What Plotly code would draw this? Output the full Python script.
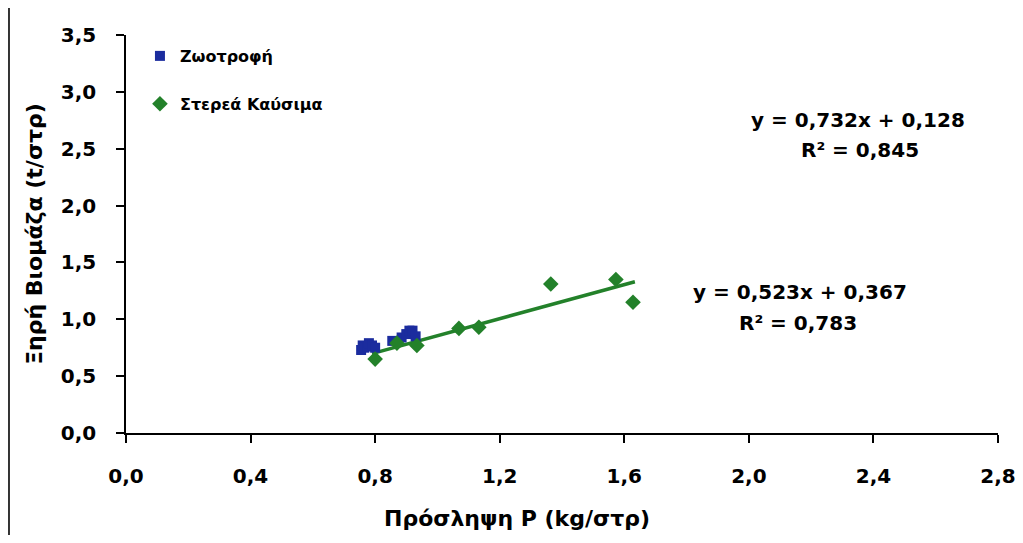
import numpy as np
import plotly.graph_objects as go

# Data
zootrofi_x = [0.755, 0.76, 0.765, 0.775, 0.78, 0.79, 0.80, 0.855, 0.885, 0.90, 0.91, 0.92, 0.93]
zootrofi_y = [0.73, 0.77, 0.75, 0.76, 0.79, 0.77, 0.75, 0.81, 0.84, 0.87, 0.90, 0.90, 0.85]

kafsima_x = [0.80, 0.87, 0.934, 1.069, 1.133, 1.364, 1.573, 1.628]
kafsima_y = [0.65, 0.79, 0.77, 0.92, 0.93, 1.31, 1.35, 1.15]

series_names = ["Ζωοτροφή", "Στερεά Καύσιμα"]
eq_lines = ["y = 0,732x + 0,128", "R² = 0,845", "y = 0,523x + 0,367", "R² = 0,783"]
x_title = "Πρόσληψη P (kg/στρ)"
y_title = "Ξηρή Βιομάζα (t/στρ)"

x_ticks = [0.0, 0.4, 0.8, 1.2, 1.6, 2.0, 2.4, 2.8]
y_ticks = [0.0, 0.5, 1.0, 1.5, 2.0, 2.5, 3.0, 3.5]

BLUE = "#1b2c9e"
GREEN = "#23812a"
FONT = "DejaVu Sans"


def bold(s):
    return "<b>" + s + "</b>"


def fmt(v):
    return bold(f"{v:.1f}".replace(".", ","))


# linear fit of the green series for the trend line
kx = np.array(kafsima_x)
ky = np.array(kafsima_y)
slope, intercept = np.polyfit(kx, ky, 1)
fit_x = np.array([kx.min() - 0.01, kx.max() + 0.006])
fit_y = slope * fit_x + intercept

fig = go.Figure()
fig.add_trace(go.Scatter(
    x=fit_x, y=fit_y, mode="lines", line=dict(color=GREEN, width=3.5),
    showlegend=False, hoverinfo="skip"))
fig.add_trace(go.Scatter(
    x=zootrofi_x, y=zootrofi_y, mode="markers", name=bold(series_names[0]),
    legendgroup="a",
    marker=dict(symbol="square", size=10, color=BLUE, line=dict(width=0))))
fig.add_trace(go.Scatter(
    x=kafsima_x, y=kafsima_y, mode="markers", name=bold(series_names[1]),
    legendgroup="b",
    marker=dict(symbol="diamond", size=12, color=GREEN, line=dict(width=0))))

eq_pos = [(2.35, 2.753), (2.356, 2.489), (2.164, 1.24), (2.157, 0.967)]
for txt, (ax, ay) in zip(eq_lines, eq_pos):
    fig.add_annotation(x=ax, y=ay, xref="x", yref="y", text=bold(txt),
                       showarrow=False, align="center",
                       font=dict(family=FONT, size=20, color="black"))

# x-axis title (offset to the left of the plot centre, as in the original)
fig.add_annotation(x=1.255, y=-0.2136, xref="x", yref="paper", text=bold(x_title),
                   showarrow=False, xanchor="center", yanchor="middle",
                   font=dict(family=FONT, size=22, color="black"))

# thin scan-border line at the left edge
fig.add_shape(type="line", xref="paper", yref="paper",
              x0=-0.1342, x1=-0.1342, y0=-0.26, y1=1.07,
              line=dict(color="#333333", width=2))

axis_font = dict(family=FONT, size=20, color="black")
fig.update_layout(
    width=1015, height=527,
    margin=dict(l=118, r=25, t=27, b=102, autoexpand=False),
    paper_bgcolor="white", plot_bgcolor="white",
    font=dict(family=FONT, color="black"),
    showlegend=True,
    legend=dict(x=0.016, y=0.99, xanchor="left", yanchor="top",
                traceorder="grouped", tracegroupgap=24,
                bgcolor="rgba(0,0,0,0)",
                font=dict(family=FONT, size=16, color="black")),
    xaxis=dict(range=[0, 2.8], tickvals=x_ticks, ticktext=[fmt(v) for v in x_ticks],
               automargin=False,
               showgrid=False, zeroline=False, showline=True,
               linecolor="black", linewidth=1.5,
               ticks="outside", ticklen=8, tickcolor="black", tickwidth=1.5,
               ticklabelstandoff=16,
               tickfont=axis_font),
    yaxis=dict(range=[0, 3.5], tickvals=y_ticks, ticktext=[fmt(v) for v in y_ticks],
               automargin=False,
               showgrid=False, zeroline=False, showline=True,
               linecolor="black", linewidth=1.5,
               ticks="outside", ticklen=8, tickcolor="black", tickwidth=1.5,
               ticklabelstandoff=16,
               tickfont=axis_font,
               title=dict(text=bold(y_title), standoff=12,
                          font=dict(family=FONT, size=22, color="black"))),
)

fig.write_html("out.html")
